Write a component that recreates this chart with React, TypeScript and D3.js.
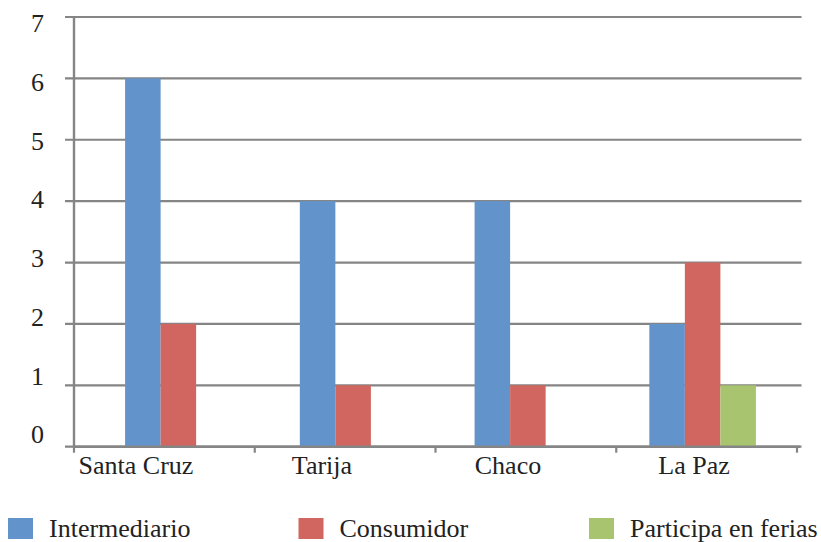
import React from "react";
import * as d3 from "d3";

// Destination of sales by department
const categories = ["Santa Cruz", "Tarija", "Chaco", "La Paz"];
const seriesNames = ["Intermediario", "Consumidor", "Participa en ferias"];
const intermediario = [6, 4, 4, 2];
const consumidor = [2, 1, 1, 3];
const participaEnFerias = [0, 0, 0, 1];
const yTicks = [0, 1, 2, 3, 4, 5, 6, 7];

const seriesValues = [intermediario, consumidor, participaEnFerias];
const colors = ["#6294CB", "#D0665F", "#A9C46F"];

const W = 821;
const H = 542;
const FONT = "Liberation Serif, Tinos, Times New Roman, DejaVu Serif, serif";

export default function App() {
  const y = d3.scaleLinear().domain([0, 7]).range([446.7, 17]);
  const yLabel = d3.scaleLinear().domain([0, 7]).range([443.3, 32]);

  // category axis ticks
  const xAxis = d3.scaleBand().domain(categories).range([74, 797]);
  // bar groups
  const xGroup = d3
    .scaleBand()
    .domain(categories)
    .range([91, 790])
    .paddingInner(0.39)
    .paddingOuter(0.195);
  const xSeries = d3
    .scaleBand()
    .domain(seriesNames)
    .range([0, xGroup.bandwidth()]);
  // category label positions
  const xLabel = d3.scalePoint().domain(categories).range([136, 694]);

  const legendX = d3.scalePoint().domain(seriesNames).range([8, 589]);

  const axisColor = "#858585";
  const textStyle = { fontFamily: FONT, fontSize: "26px" };

  return (
    <svg
      width={W}
      height={H}
      style={{ position: "fixed", left: 0, top: 0, background: "#fff" }}
    >
      <rect width={W} height={H} fill="#fff" />
      {/* horizontal gridlines with left tick stubs */}
      {yTicks.map((t) => (
        <line
          key={"g" + t}
          x1={65}
          x2={801.5}
          y1={y(t)}
          y2={y(t)}
          stroke={axisColor}
          strokeWidth={2.2}
        />
      ))}
      {/* bars */}
      {categories.map((c, ci) => (
        <g key={c} transform={`translate(${xGroup(c)},0)`}>
          {seriesNames.map((s, si) => {
            const v = seriesValues[si][ci];
            if (!v) return null;
            return (
              <rect
                key={s}
                x={xSeries(s)}
                y={y(v)}
                width={xSeries.bandwidth()}
                height={y(0) - y(v)}
                fill={colors[si]}
              />
            );
          })}
        </g>
      ))}
      {/* y axis */}
      <line x1={74} x2={74} y1={y(7)} y2={y(0) + 1} stroke={axisColor} strokeWidth={2.4} />
      {/* x axis */}
      <line x1={74} x2={800} y1={y(0)} y2={y(0)} stroke={axisColor} strokeWidth={2.4} />
      {categories.map((c) => (
        <line
          key={"t" + c}
          x1={xAxis(c)}
          x2={xAxis(c)}
          y1={y(0)}
          y2={y(0) + 6}
          stroke={axisColor}
          strokeWidth={2.2}
        />
      ))}
      <line
        x1={xAxis.range()[1]}
        x2={xAxis.range()[1]}
        y1={y(0)}
        y2={y(0) + 6}
        stroke={axisColor}
        strokeWidth={2.2}
      />
      {/* y tick labels */}
      {yTicks.map((t) => (
        <text
          key={"yl" + t}
          x={44}
          y={yLabel(t)}
          textAnchor="end"
          style={textStyle}
          fill="#222"
        >
          {t}
        </text>
      ))}
      {/* category labels */}
      {categories.map((c) => (
        <text
          key={"xl" + c}
          x={xLabel(c)}
          y={474.3}
          textAnchor="middle"
          style={textStyle}
          fill="#222"
        >
          {c}
        </text>
      ))}
      {/* legend */}
      {seriesNames.map((s, i) => (
        <g key={"lg" + s} transform={`translate(${legendX(s)},0)`}>
          <rect x={0} y={518} width={25} height={21} fill={colors[i]} />
          <text x={41} y={536.7} style={textStyle} fill="#222">
            {s}
          </text>
        </g>
      ))}
    </svg>
  );
}
